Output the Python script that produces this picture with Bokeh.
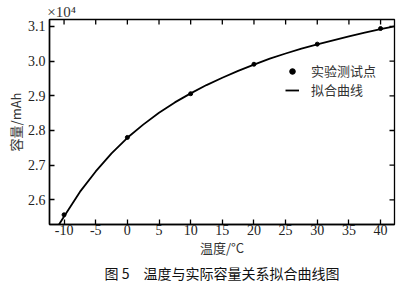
import math
from bokeh.plotting import figure
from bokeh.models import FixedTicker, Range1d, Legend, LegendItem, Title, LinearAxis
from bokeh.embed import file_html
from bokeh.resources import INLINE

# measured test points (temperature in °C, capacity in mAh)
temps = [-10, 0, 10, 20, 30, 40]
capacity = [25570, 27800, 29060, 29910, 30490, 30940]

# fitted curve
fit_temps = [-10.8, -10, -7.5, -5, -2.5, 0, 2.5, 5, 7.5, 10, 12.5, 15, 17.5,
             20, 22.5, 25, 27.5, 30, 32.5, 35, 37.5, 40, 42.2]
fit_caps = [25290, 25520, 26230, 26820, 27340, 27790, 28170, 28510, 28810, 29070,
            29310, 29520, 29720, 29900, 30070, 30220, 30360, 30480, 30600, 30710,
            30820, 30920, 31000]

x_ticks = [-10, -5, 0, 5, 10, 15, 20, 25, 30, 35, 40]
x_tick_labels = ["-10", "-5", "0", "5", "10", "15", "20", "25", "30", "35", "40"]
y_ticks = [26000, 27000, 28000, 29000, 30000, 31000]
y_tick_labels = ["2.6", "2.7", "2.8", "2.9", "3.0", "3.1"]

x_label = "温度/°C"
y_label = "容量/mAh"
scale_note = "×10⁴"
caption = "图 5　温度与实际容量关系拟合曲线图"
legend_labels = ["实验测试点", "拟合曲线"]

CJK = "Noto Sans CJK SC"
SERIF = "'Liberation Serif'"
X0, X1 = -12.3, 42.2
Y0, Y1 = 25290, 31200
NOTE_X = -10.4  # where the ×10⁴ note is centred, along the top edge

p = figure(width=400, height=283, output_backend="svg", toolbar_location=None,
           x_range=Range1d(X0, X1), y_range=Range1d(Y0, Y1),
           min_border_left=49, min_border_right=6, min_border_top=17, min_border_bottom=8)
p.xgrid.visible = False
p.ygrid.visible = False
p.outline_line_color = "black"
p.outline_line_width = 1.3

curve = p.line(fit_temps, fit_caps, line_color="black", line_width=1.8)
pts = p.scatter(temps, capacity, size=4, color="black")

# inward ticks on the top and right frame edges
p.ray(x=x_ticks, y=[Y1] * len(x_ticks), length=5, length_units="screen",
      angle=-math.pi / 2, line_color="black", line_width=1.3)
p.ray(x=[X1] * len(y_ticks), y=y_ticks, length=5, length_units="screen",
      angle=math.pi, line_color="black", line_width=1.3)


def style_axis(ax):
    ax.axis_line_color = "black"
    ax.axis_line_width = 1.5
    ax.major_tick_in = 5
    ax.major_tick_out = 0
    ax.minor_tick_in = 0
    ax.minor_tick_out = 0
    ax.major_tick_line_color = "black"
    ax.major_tick_line_width = 1.3
    ax.major_label_text_font = SERIF
    ax.major_label_text_font_size = "14px"
    ax.major_label_text_color = "#222222"
    ax.axis_label_text_font = CJK
    ax.axis_label_text_font_style = "normal"
    ax.axis_label_text_font_size = "13px"
    ax.axis_label_text_color = "#333333"


xa = p.xaxis[0]
xa.ticker = FixedTicker(ticks=x_ticks)
xa.major_label_overrides = {t: l for t, l in zip(x_ticks, x_tick_labels)}
style_axis(xa)
xa.major_label_standoff = 0
xa.axis_label = x_label
xa.axis_label_standoff = 0

ya = p.yaxis[0]
ya.ticker = FixedTicker(ticks=y_ticks)
ya.major_label_overrides = {t: l for t, l in zip(y_ticks, y_tick_labels)}
style_axis(ya)
ya.major_label_standoff = 4
ya.axis_label = y_label
ya.axis_label_standoff = 0

# the ×10⁴ scale note above the top-left corner
note_axis = LinearAxis(ticker=FixedTicker(ticks=[NOTE_X]),
                       major_label_overrides={NOTE_X: scale_note})
note_axis.axis_line_color = None
note_axis.major_tick_line_color = None
note_axis.minor_tick_line_color = None
note_axis.major_tick_in = 0
note_axis.major_tick_out = 0
note_axis.minor_tick_in = 0
note_axis.minor_tick_out = 0
note_axis.major_label_standoff = 0
note_axis.major_label_text_font = SERIF
note_axis.major_label_text_font_size = "15px"
note_axis.major_label_text_color = "#333333"
p.add_layout(note_axis, "above")

legend = Legend(items=[LegendItem(label=legend_labels[0], renderers=[pts]),
                       LegendItem(label=legend_labels[1], renderers=[curve])],
                location=(236, 125), border_line_color=None, background_fill_alpha=0,
                label_text_font=CJK, label_text_font_size="13px", label_text_color="#333333",
                glyph_width=14, glyph_height=14, label_height=14, spacing=-3, padding=0,
                margin=0, label_standoff=12)
p.add_layout(legend, "center")

p.add_layout(Title(text=caption, align="center", text_font=CJK, text_font_size="14px",
                   text_font_style="normal", text_color="#111111", standoff=2), "below")

open("out.html", "w").write(file_html(p, INLINE))
